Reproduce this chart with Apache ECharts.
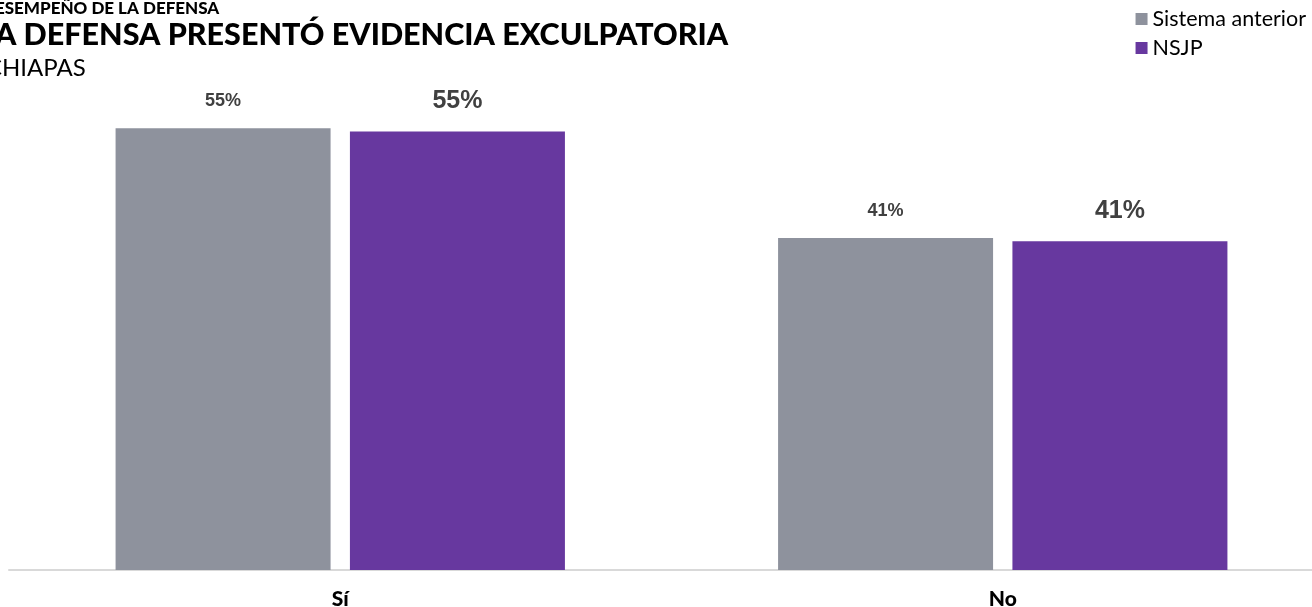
<!DOCTYPE html>
<html>
<head>
<meta charset="utf-8">
<script src="https://cdn.jsdelivr.net/npm/echarts@6/dist/echarts.min.js"></script>
<style>
  html, body { margin: 0; padding: 0; background: #fff; }
  #chart { width: 1312px; height: 607px; }
</style>
</head>
<body>
<div id="chart"></div>
<script>
var categories = ['Sí', 'No']
var seriesNames = ['Sistema anterior', 'NSJP']
var valuesAnterior = [55.1, 41.4]
var valuesNsjp = [54.7, 41.0]

var myChart = echarts.init(document.getElementById('chart'))

var pct = function (p) {
  return Math.round(p.value) + '%'
}

var option = {
  animation: false,
  title: [
    {
      text: 'DESEMPEÑO DE LA DEFENSA',
      left: -23,
      top: -5,
      textStyle: { fontFamily: 'Lato', fontWeight: 900, fontSize: 17, color: '#000' }
    },
    {
      text: 'LA DEFENSA PRESENTÓ EVIDENCIA EXCULPATORIA',
      left: -26,
      top: 15,
      textStyle: { fontFamily: 'Lato', fontWeight: 900, fontSize: 30.5, color: '#000' }
    },
    {
      text: 'CHIAPAS',
      left: -19,
      top: 51,
      textStyle: { fontFamily: 'Lato', fontWeight: 'normal', fontSize: 24, color: '#000' }
    }
  ],
  legend: {
    orient: 'vertical',
    right: 1,
    top: 3,
    itemWidth: 12,
    itemHeight: 12,
    itemGap: 7,
    icon: 'rect',
    textStyle: { fontFamily: 'Lato', fontSize: 21.5, color: '#000' },
    data: seriesNames
  },
  grid: {
    left: 9,
    width: 1325,
    top: 89,
    bottom: 37,
    outerBoundsMode: 'none'
  },
  xAxis: {
    type: 'category',
    data: categories,
    axisLine: { lineStyle: { color: '#d9d9d9', width: 2 } },
    axisTick: { show: false },
    axisLabel: {
      margin: 19,
      fontFamily: 'Lato',
      fontWeight: 900,
      fontSize: 21,
      color: '#000'
    }
  },
  yAxis: {
    type: 'value',
    min: 0,
    max: 60,
    show: false,
    splitLine: { show: false }
  },
  series: [
    {
      name: seriesNames[0],
      type: 'bar',
      data: valuesAnterior,
      barWidth: 215,
      barGap: '9%',
      itemStyle: { color: '#8e929d' },
      label: {
        show: true,
        position: 'top',
        distance: 18,
        formatter: pct,
        fontFamily: 'Liberation Sans',
        fontWeight: 'bold',
        fontSize: 18,
        color: '#404040'
      }
    },
    {
      name: seriesNames[1],
      type: 'bar',
      data: valuesNsjp,
      barWidth: 215,
      itemStyle: { color: '#67389f' },
      label: {
        show: true,
        position: 'top',
        distance: 18,
        formatter: pct,
        fontFamily: 'Liberation Sans',
        fontWeight: 'bold',
        fontSize: 25,
        color: '#404040'
      }
    }
  ]
}

myChart.setOption(option)
window.onresize = function () {
  myChart.resize()
}
</script>
</body>
</html>
